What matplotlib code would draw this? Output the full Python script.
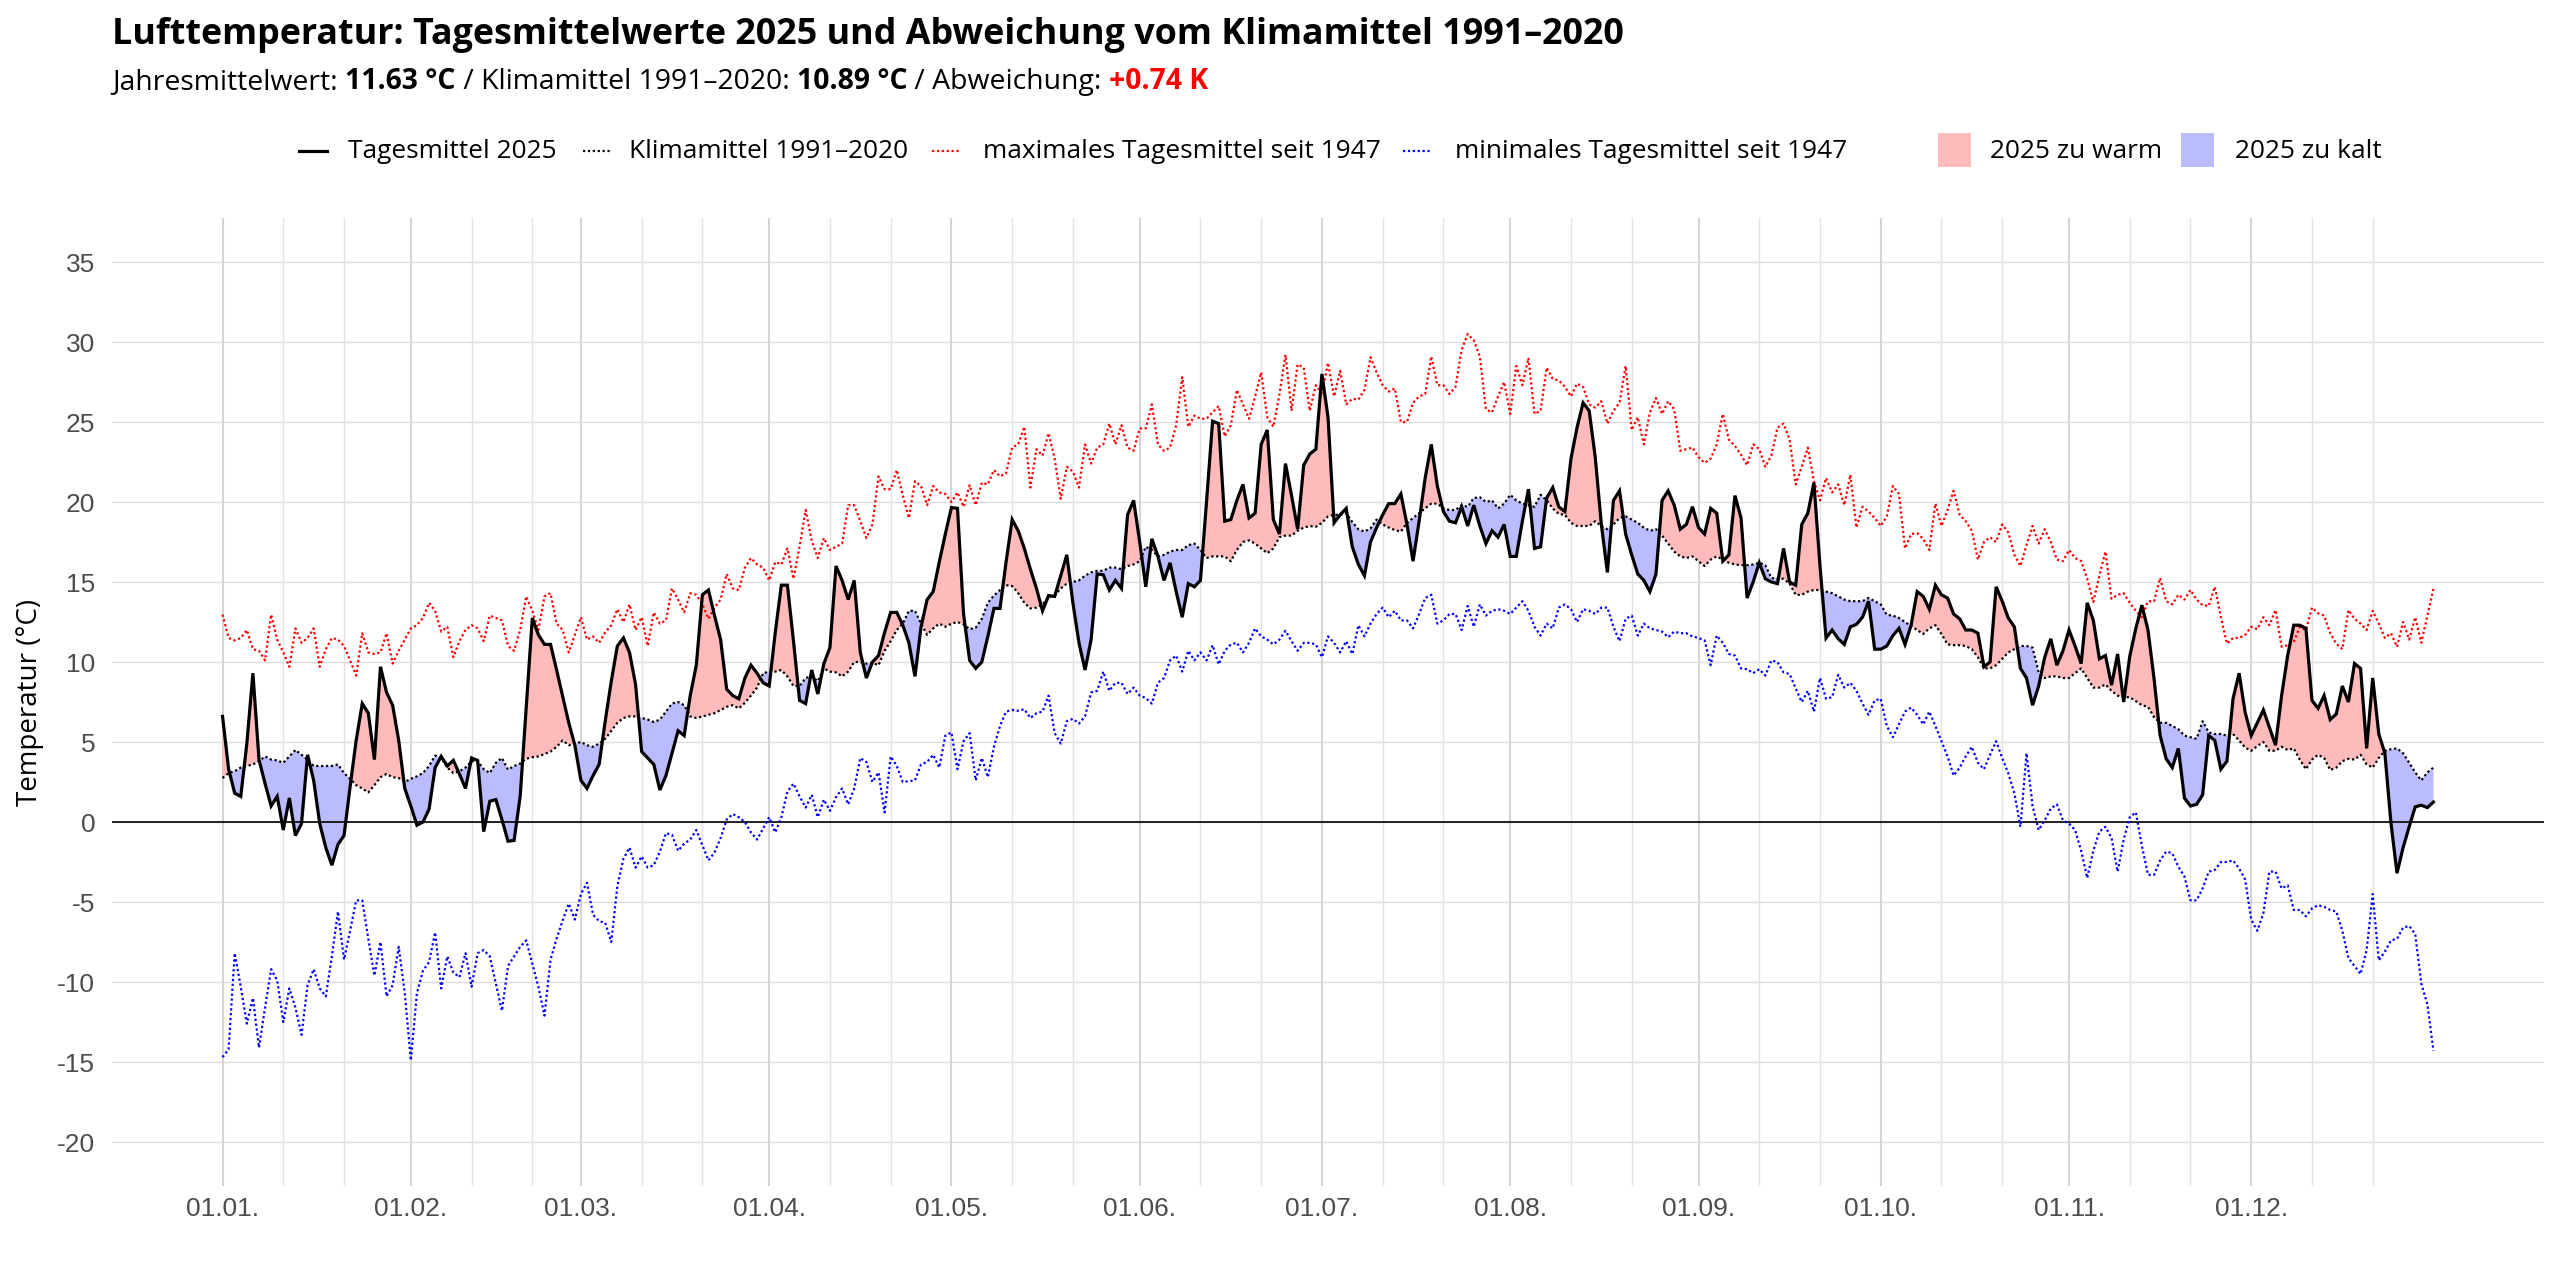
import numpy as np
import matplotlib
matplotlib.use("Agg")
import matplotlib.pyplot as plt
from matplotlib.patches import Rectangle

plt.rcParams['font.family'] = ['Open Sans', 'DejaVu Sans']

# ---------------- data ----------------
t2025 = [
    6.6, 3.3, 1.8, 1.6, 4.9, 9.3, 3.9, 2.4, 1.0, 1.6,
    -0.5, 1.5, -0.85, -0.1, 4.2, 2.6, -0.1, -1.6, -2.7, -1.4,
    -0.85, 2.2, 5.1, 7.4, 6.8, 3.9, 9.7, 8.1, 7.3, 5.1,
    2.1, 1.0, -0.2, 0.0, 0.8, 3.4, 4.1, 3.5, 3.85, 3.0,
    2.1, 4.0, 3.85, -0.6, 1.3, 1.4, 0.15, -1.2, -1.15, 1.6,
    7.2, 12.75, 11.7, 11.1, 11.1, 9.5, 7.85, 6.2, 4.8, 2.6,
    2.1, 2.9, 3.6, 6.3, 8.8, 11.0, 11.5, 10.6, 8.6, 4.4,
    4.0, 3.6, 2.0, 2.9, 4.3, 5.7, 5.4, 7.9, 9.8, 14.2,
    14.5, 12.9, 11.4, 8.3, 7.9, 7.7, 9.0, 9.8, 9.3, 8.7,
    8.5, 11.85, 14.8, 14.8, 11.3, 7.6, 7.4, 9.5, 8.0, 9.9,
    10.9, 16.0, 15.1, 13.9, 15.1, 10.6, 9.0, 10.0, 10.4, 11.85,
    13.1, 13.1, 12.3, 11.2, 9.1, 12.2, 13.9, 14.4, 16.25, 18.0,
    19.65, 19.6, 13.0, 10.1, 9.6, 10.0, 11.6, 13.35, 13.35, 16.25,
    18.9, 18.2, 17.1, 15.8, 14.6, 13.2, 14.15, 14.1, 15.4, 16.7,
    13.7, 11.2, 9.5, 11.4, 15.5, 15.45, 14.5, 15.1, 14.6, 19.2,
    20.1, 17.5, 14.7, 17.7, 16.6, 15.1, 16.2, 14.4, 12.8, 14.9,
    14.7, 15.1, 20.0, 25.05, 24.9, 18.8, 18.9, 20.1, 21.1, 19.0,
    19.3, 23.6, 24.5, 18.9, 18.0, 22.4, 20.4, 18.3, 22.3, 23.0,
    23.3, 28.0, 25.3, 18.7, 19.2, 19.6, 17.2, 16.1, 15.4, 17.5,
    18.4, 19.2, 19.9, 19.9, 20.5, 18.6, 16.3, 18.8, 21.5, 23.6,
    21.0, 19.4, 18.8, 18.7, 19.7, 18.5, 19.8, 18.5, 17.4, 18.2,
    17.8, 18.6, 16.6, 16.6, 18.8, 20.8, 17.1, 17.2, 20.25, 20.9,
    19.7, 19.4, 22.7, 24.65, 26.2, 25.7, 22.8, 18.6, 15.6, 20.1,
    20.7, 18.0, 16.7, 15.5, 15.1, 14.4, 15.5, 20.1, 20.7, 19.8,
    18.3, 18.6, 19.7, 18.4, 18.0, 19.6, 19.3, 16.3, 16.7, 20.4,
    19.0, 14.0, 15.0, 16.2, 15.2, 15.0, 14.9, 17.1, 15.0, 14.8,
    18.6, 19.3, 21.2, 16.0, 11.5, 12.0, 11.45, 11.1, 12.2, 12.35,
    12.8, 13.8, 10.8, 10.8, 11.0, 11.65, 12.1, 11.1, 12.3, 14.4,
    14.1, 13.3, 14.8, 14.2, 14.0, 13.0, 12.7, 12.0, 12.0, 11.8,
    9.7, 10.0, 14.7, 13.8, 12.75, 12.2, 9.6, 9.0, 7.3, 8.5,
    10.3, 11.45, 9.8, 10.7, 12.0, 11.0, 9.9, 13.7, 12.6, 10.2,
    10.4, 8.55, 10.5, 7.5, 10.35, 12.1, 13.55, 12.0, 8.95, 5.4,
    3.95, 3.4, 4.6, 1.5, 1.0, 1.1, 1.7, 5.4, 5.1, 3.3,
    3.8, 7.7, 9.3, 6.85, 5.4, 6.2, 7.0, 5.9, 4.8, 7.9,
    10.4, 12.3, 12.3, 12.1, 7.6, 7.1, 7.9, 6.4, 6.75, 8.5,
    7.5, 9.9, 9.6, 4.6, 9.0, 5.5, 4.3, -0.05, -3.2, -1.6,
    -0.3, 0.95, 1.05, 0.9, 1.25,
]

klima = [
    2.75, 3.06, 3.17, 3.4, 3.5, 3.6, 3.8, 4.1, 3.9, 3.85,
    3.7, 4.1, 4.5, 4.2, 3.9, 3.5, 3.5, 3.5, 3.5, 3.6,
    3.06, 2.7, 2.3, 2.1, 1.85, 2.3, 2.8, 3.0, 2.8, 2.75,
    2.5, 2.7, 2.85, 3.06, 3.5, 4.15, 4.0, 3.4, 3.06, 3.17,
    3.4, 3.8, 3.8, 3.3, 3.06, 3.7, 4.0, 3.27, 3.5, 3.65,
    3.95, 4.05, 4.1, 4.25, 4.4, 4.7, 5.1, 4.8, 4.9, 5.0,
    4.8, 4.7, 4.9, 5.2, 5.7, 6.2, 6.5, 6.6, 6.6, 6.5,
    6.4, 6.25, 6.4, 6.9, 7.4, 7.5, 7.3, 6.6, 6.5, 6.6,
    6.7, 6.8, 7.0, 7.2, 7.3, 7.1, 7.45, 7.9, 8.4, 9.3,
    9.4, 9.4, 9.5, 9.1, 8.5, 8.5, 9.0, 9.1, 8.8, 9.6,
    9.4, 9.35, 9.1, 9.4, 10.0, 10.0, 9.9, 9.95, 9.8, 10.7,
    11.3, 12.0, 12.4, 13.2, 13.2, 12.4, 11.7, 12.1, 12.4, 12.2,
    12.4, 12.5, 12.35, 12.05, 12.15, 12.7, 13.7, 14.15, 14.5, 14.8,
    14.75, 14.3, 13.7, 13.35, 13.4, 13.6, 14.05, 14.15, 14.6, 14.9,
    15.0, 15.1, 15.4, 15.6, 15.7, 15.7, 15.9, 15.9, 15.8, 16.0,
    16.1, 16.3, 17.2, 17.0, 16.6, 16.7, 16.9, 17.0, 17.0, 17.3,
    17.4, 17.0, 16.5, 16.6, 16.6, 16.6, 16.3, 17.0, 17.5, 17.6,
    17.4, 17.1, 16.8, 17.1, 17.8, 17.9, 17.9, 18.2, 18.4, 18.5,
    18.45, 18.7, 19.1, 19.2, 19.2, 19.3, 18.75, 18.3, 18.15, 18.35,
    18.9, 18.6, 18.4, 18.25, 18.15, 18.7, 19.0, 19.3, 19.6, 19.9,
    19.9, 19.6, 19.5, 19.5, 19.8, 19.7, 20.25, 20.3, 20.0, 20.1,
    19.6, 19.9, 20.45, 20.1, 19.9, 19.8, 19.7, 20.45, 20.1, 19.6,
    19.25, 19.2, 18.7, 18.5, 18.5, 18.5, 18.8, 18.5, 18.3, 18.6,
    19.0, 19.1, 18.9, 18.7, 18.4, 18.2, 18.3, 17.9, 17.4, 16.9,
    16.6, 16.5, 16.6, 16.3, 16.0, 16.4, 16.6, 16.4, 16.2, 16.1,
    16.05, 16.05, 16.1, 16.2, 16.05, 15.25, 15.2, 15.2, 14.9, 14.2,
    14.2, 14.4, 14.5, 14.5, 14.4, 14.3, 14.1, 13.9, 13.8, 13.8,
    13.8, 14.0, 13.8, 13.6, 12.95, 12.9, 12.75, 12.5, 12.25, 12.0,
    11.75, 12.1, 12.3, 11.75, 11.1, 11.05, 11.05, 11.0, 10.8, 10.3,
    9.6, 9.6, 9.8, 10.2, 10.6, 10.8, 11.0, 11.0, 10.9, 9.35,
    9.0, 9.1, 9.1, 9.0, 9.0, 9.3, 9.6, 9.0, 8.4, 8.4,
    8.6, 8.2, 7.9, 7.8, 7.8, 7.55, 7.3, 7.2, 6.55, 6.2,
    6.2, 6.0, 5.8, 5.4, 5.3, 5.2, 6.3, 5.6, 5.5, 5.5,
    5.4, 5.5, 5.1, 4.65, 4.45, 4.75, 5.0, 4.45, 4.45, 4.7,
    4.5, 4.6, 3.9, 3.3, 3.9, 4.2, 4.0, 3.25, 3.4, 3.8,
    3.95, 3.9, 4.2, 3.6, 3.4, 4.0, 4.45, 4.55, 4.6, 4.3,
    3.7, 3.1, 2.6, 3.1, 3.4,
]

tmax = [
    12.96, 11.5, 11.35, 11.5, 12.0, 10.8, 10.7, 10.1, 12.96, 11.4,
    10.6, 9.7, 12.1, 11.2, 11.5, 12.1, 9.7, 10.8, 11.5, 11.4,
    11.0, 10.1, 9.15, 11.8, 10.6, 10.5, 10.6, 11.8, 9.9, 10.7,
    11.4, 12.1, 12.3, 12.75, 13.7, 13.2, 11.9, 12.2, 10.3, 11.3,
    12.0, 12.3, 12.1, 11.3, 12.9, 12.75, 12.6, 11.0, 10.7, 12.0,
    14.1, 13.2, 12.0, 14.1, 14.3, 12.4, 12.0, 10.6, 11.7, 12.8,
    11.4, 11.6, 11.2, 11.85, 12.3, 13.3, 12.5, 13.6, 12.0, 12.8,
    11.0, 13.1, 12.4, 12.6, 14.6, 13.9, 13.1, 14.3, 14.2, 13.6,
    12.7, 13.4, 13.9, 15.5, 14.6, 14.5, 15.9, 16.5, 16.1, 15.9,
    15.1, 16.25, 16.1, 17.1, 15.2, 17.2, 19.5, 17.6, 16.5, 17.75,
    17.0, 17.2, 17.4, 19.8, 19.8, 18.8, 17.75, 18.6, 21.6, 20.8,
    20.8, 22.0, 20.4, 19.0, 21.3, 21.0, 19.8, 21.0, 20.6, 20.5,
    20.0, 20.6, 19.7, 21.05, 19.8, 21.2, 21.1, 22.0, 21.6, 21.8,
    23.4, 23.6, 24.7, 20.9, 23.3, 22.9, 24.3, 22.7, 20.2, 22.2,
    21.9, 20.9, 23.6, 22.4, 23.4, 23.6, 24.9, 23.6, 24.8, 23.4,
    23.2, 24.6, 24.6, 26.1, 23.6, 23.2, 23.4, 24.8, 27.8, 24.7,
    25.4, 25.2, 25.2, 25.6, 26.0, 24.1, 24.8, 27.0, 26.1, 25.2,
    26.6, 28.1, 25.3, 24.7, 26.7, 29.2, 25.7, 28.6, 28.4, 25.7,
    27.3, 26.8, 28.7, 26.6, 28.2, 26.1, 26.45, 26.4, 27.0, 29.05,
    28.1, 27.3, 26.9, 27.1, 25.0, 25.0, 26.2, 26.6, 26.75, 29.1,
    27.3, 27.3, 26.75, 27.2, 29.5, 30.5, 30.1, 29.1, 25.8, 25.6,
    26.6, 27.5, 25.5, 28.5, 27.3, 29.0, 25.5, 25.7, 28.4, 27.7,
    27.6, 27.2, 26.6, 27.4, 27.2, 26.1, 25.9, 26.3, 24.9, 25.7,
    26.2, 28.5, 24.5, 25.3, 23.6, 25.6, 26.5, 25.5, 26.3, 25.8,
    23.2, 23.3, 23.4, 22.8, 22.45, 22.7, 23.6, 25.5, 23.9, 23.5,
    22.95, 22.3, 23.6, 23.3, 22.2, 22.9, 24.65, 24.9, 23.9, 21.1,
    22.2, 23.4, 21.3, 20.1, 21.5, 20.6, 21.1, 19.8, 21.7, 18.4,
    19.7, 19.4, 19.0, 18.5, 19.1, 21.0, 20.5, 17.1, 18.0, 18.05,
    17.7, 17.0, 19.9, 18.5, 19.5, 20.7, 19.2, 18.8, 18.2, 16.4,
    17.5, 17.8, 17.5, 18.6, 18.1, 16.7, 16.0, 17.3, 18.5, 17.4,
    18.3, 17.5, 16.4, 16.3, 17.0, 16.5, 16.3, 15.2, 13.75, 15.4,
    16.9, 13.95, 14.2, 14.3, 13.7, 13.2, 12.8, 13.8, 13.8, 15.25,
    13.8, 13.6, 14.2, 13.9, 14.5, 13.9, 13.55, 13.5, 14.7, 12.8,
    11.15, 11.5, 11.5, 11.7, 12.2, 12.05, 12.8, 12.3, 13.25, 10.95,
    11.05, 11.25, 12.2, 12.0, 13.4, 13.05, 12.9, 11.8, 11.15, 10.8,
    13.25, 12.7, 12.4, 12.0, 13.2, 12.4, 11.5, 11.8, 10.95, 12.5,
    11.4, 12.8, 11.2, 12.9, 14.6,
]

tmin = [
    -14.7, -14.2, -8.2, -10.3, -12.6, -11.0, -14.1, -11.6, -9.2, -9.9,
    -12.5, -10.4, -11.6, -13.3, -10.2, -9.2, -10.4, -10.9, -8.4, -5.6,
    -8.6, -6.8, -4.9, -4.9, -7.3, -9.6, -7.5, -10.9, -10.2, -7.8,
    -10.7, -14.9, -10.7, -9.3, -8.75, -6.9, -10.4, -8.4, -9.4, -9.7,
    -8.2, -10.3, -8.2, -8.0, -8.4, -10.1, -11.8, -9.0, -8.4, -7.8,
    -7.4, -8.85, -10.3, -12.1, -8.6, -7.3, -6.15, -5.1, -6.1, -4.5,
    -3.8, -5.8, -6.2, -6.3, -7.5, -4.0, -2.3, -1.6, -2.85, -2.15,
    -2.85, -2.7, -1.85, -0.7, -0.8, -1.8, -1.35, -1.1, -0.5, -1.45,
    -2.4, -1.9, -1.0, 0.15, 0.5, 0.3, 0.0, -0.65, -1.1, -0.4,
    0.3, -0.65, 0.3, 1.9, 2.4, 1.6, 0.9, 1.7, 0.3, 1.4,
    0.7, 1.55, 2.1, 1.1, 2.1, 4.0, 3.75, 2.5, 3.1, 0.6,
    4.1, 3.5, 2.5, 2.55, 2.6, 3.6, 3.75, 4.2, 3.4, 5.4,
    5.6, 3.3, 5.05, 5.55, 2.6, 4.0, 2.8, 4.7, 6.0, 6.9,
    7.0, 6.95, 7.05, 6.5, 6.8, 6.9, 7.9, 5.55, 4.9, 6.3,
    6.45, 6.15, 6.6, 8.1, 8.2, 9.4, 8.2, 8.7, 8.7, 8.0,
    8.4, 7.9, 7.75, 7.4, 8.7, 9.0, 10.1, 10.4, 9.4, 10.7,
    10.1, 10.6, 10.1, 11.05, 9.85, 10.7, 11.1, 11.2, 10.6, 11.2,
    12.1, 11.6, 11.4, 11.1, 11.4, 11.95, 11.3, 10.7, 11.2, 11.2,
    11.1, 10.3, 11.6, 11.2, 10.6, 11.3, 10.5, 12.3, 11.6, 12.4,
    13.0, 13.4, 12.8, 13.2, 12.6, 12.6, 12.1, 13.0, 14.0, 14.2,
    12.4, 12.6, 13.0, 13.0, 12.0, 13.5, 12.2, 13.6, 12.9, 13.2,
    13.3, 13.2, 13.0, 13.4, 13.8, 13.2, 12.2, 11.65, 12.4, 12.1,
    13.4, 13.6, 13.3, 12.5, 13.3, 13.2, 13.0, 13.4, 13.4, 12.2,
    11.3, 12.7, 12.9, 11.65, 12.4, 12.1, 12.0, 11.9, 11.55, 11.9,
    11.8, 11.8, 11.6, 11.5, 11.35, 9.8, 11.65, 11.2, 10.5, 10.4,
    9.6, 9.55, 9.3, 9.55, 9.15, 10.1, 10.0, 9.35, 9.25, 8.35,
    7.5, 8.2, 6.9, 9.0, 7.7, 7.8, 9.2, 8.4, 8.7, 8.2,
    7.4, 6.7, 7.6, 7.7, 6.0, 5.3, 6.1, 6.9, 7.15, 6.7,
    6.1, 6.9, 6.0, 5.05, 4.1, 2.9, 3.4, 4.1, 4.7, 3.7,
    3.3, 4.2, 5.05, 4.0, 3.05, 1.8, -0.3, 4.3, 1.0, -0.5,
    0.1, 0.85, 1.1, 0.1, -0.1, -0.5, -1.8, -3.5, -1.8, -0.6,
    -0.3, -1.0, -3.1, -1.1, 0.3, 0.6, -1.5, -3.3, -3.3, -2.4,
    -1.85, -1.95, -2.8, -3.4, -4.9, -4.9, -4.15, -3.1, -3.0, -2.5,
    -2.5, -2.4, -2.9, -3.6, -6.1, -6.8, -5.7, -3.1, -3.1, -4.15,
    -3.95, -5.5, -5.5, -5.9, -5.4, -5.2, -5.3, -5.5, -5.6, -6.8,
    -8.5, -9.0, -9.5, -8.0, -4.5, -8.65, -8.1, -7.4, -7.3, -6.6,
    -6.5, -7.0, -10.1, -11.4, -14.3,
]

month_start_days = [1, 32, 60, 91, 121, 152, 182, 213, 244, 274, 305, 335]
month_labels = ['01.01.', '01.02.', '01.03.', '01.04.', '01.05.', '01.06.',
                '01.07.', '01.08.', '01.09.', '01.10.', '01.11.', '01.12.']
y_ticks = [-20, -15, -10, -5, 0, 5, 10, 15, 20, 25, 30, 35]

title = 'Lufttemperatur: Tagesmittelwerte 2025 und Abweichung vom Klimamittel 1991–2020'
subtitle_parts = [
    ('Jahresmittelwert: ', 'normal', 'black'),
    ('11.63 °C', 'bold', 'black'),
    (' / Klimamittel 1991–2020: ', 'normal', 'black'),
    ('10.89 °C', 'bold', 'black'),
    (' / Abweichung: ', 'normal', 'black'),
    ('+0.74 K', 'bold', '#FF0000'),
]
legend_lines = ['Tagesmittel 2025', 'Klimamittel 1991–2020',
                'maximales Tagesmittel seit 1947', 'minimales Tagesmittel seit 1947']
legend_fills = ['2025 zu warm', '2025 zu kalt']

# ---------------- figure ----------------
W, H = 2560, 1280
fig = plt.figure(figsize=(W / 100, H / 100), dpi=100)
fig.patch.set_facecolor('white')

days = np.arange(1, len(t2025) + 1)
t = np.array(t2025)
k = np.array(klima)

ax = fig.add_axes([112 / W, 1 - 1186 / H, (2544 - 112) / W, (1186 - 218) / H])
ax.set_facecolor('white')
for s in ax.spines.values():
    s.set_visible(False)

ax.set_xlim(1 - 18.2, 365 + 18.2)
ax.set_ylim(-22.75, 37.75)

# grid
for yv in y_ticks:
    ax.axhline(yv, color='#dddddd', lw=1.0, zorder=0)
for m in month_start_days:
    ax.axvline(m, color='#d4d4d4', lw=1.5, zorder=0)
    for off in (10, 20):
        ax.axvline(m + off, color='#e4e4e4', lw=1.0, zorder=0)

warm_col = '#FFBBBB'
cold_col = '#BBBBFF'
ax.fill_between(days, t, k, where=t >= k, interpolate=True, color=warm_col, lw=0, zorder=1)
ax.fill_between(days, t, k, where=t <= k, interpolate=True, color=cold_col, lw=0, zorder=1)

ax.axhline(0, color='black', lw=1.2, zorder=2)

dot = (0, (1, 1.2))
ax.plot(days, tmin, color='#0000FF', lw=1.6, ls=dot, zorder=3)
ax.plot(days, tmax, color='#FF0000', lw=1.6, ls=dot, zorder=3)
ax.plot(days, klima, color='black', lw=1.6, ls=dot, zorder=4)
ax.plot(days, t2025, color='black', lw=2.3, zorder=5, solid_joinstyle='miter')

tick_font = ['Liberation Sans', 'DejaVu Sans']
ax.set_xticks(month_start_days)
ax.set_xticklabels(month_labels, family=tick_font)
ax.set_yticks(y_ticks)
ax.set_yticklabels([str(v) for v in y_ticks], family=tick_font)
ax.tick_params(axis='both', length=0, labelsize=19, labelcolor='#4d4d4d')
ax.tick_params(axis='x', pad=8)
ax.tick_params(axis='y', pad=12)

# ---------------- overlay for texts & legend ----------------
ov = fig.add_axes([0, 0, 1, 1])
ov.set_xlim(0, W)
ov.set_ylim(H, 0)
ov.axis('off')

ov.text(112, 44, title, fontsize=25.8, fontweight='bold', ha='left', va='baseline')

renderer = fig.canvas.get_renderer()
x = 112
for txt, wgt, col in subtitle_parts:
    tt = ov.text(x, 89, txt, fontsize=20.4, fontweight=wgt, color=col, ha='left', va='baseline')
    x += tt.get_window_extent(renderer).width

ov.text(30, 702, 'Temperatur (°C)', rotation=90, fontsize=20, ha='center', va='center')

ly = 151
keys = [
    (299, 327, 348, 'black', '-', 2.3),
    (583, 611, 629, 'black', dot, 1.6),
    (932, 960, 983, '#FF0000', dot, 1.6),
    (1403, 1431, 1455, '#0000FF', dot, 1.6),
]
for (x0, x1, xt, col, ls, lw), lab in zip(keys, legend_lines):
    ov.plot([x0, x1], [ly, ly], color=col, ls=ls, lw=lw)
    ov.text(xt, ly, lab, fontsize=18.9, ha='left', va='center')

for (bx, xt, col), lab in zip([(1938, 1990, warm_col), (2181, 2235, cold_col)], legend_fills):
    ov.add_patch(Rectangle((bx, 133), 33, 34, facecolor=col, edgecolor='none'))
    ov.text(xt, ly, lab, fontsize=18.9, ha='left', va='center')

fig.savefig('out.png', dpi=100, facecolor='white')
